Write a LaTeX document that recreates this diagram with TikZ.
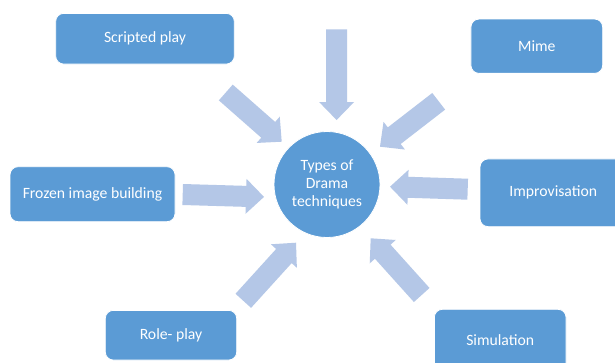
\documentclass[tikz,border=0pt]{standalone}
\usepackage{fontspec}
\setmainfont{Carlito}
\usetikzlibrary{calc}
\definecolor{boxblue}{HTML}{5B9BD5}
\definecolor{arrowblue}{HTML}{B4C7E7}
\tikzset{
  techbox/.style={draw=white, line width=0.8pt, fill=boxblue, rounded corners=8pt,
    text=white, font=\fontsize{15.7}{17.7}\selectfont, inner sep=0pt, align=center},
  hubnode/.style={circle, fill=boxblue, draw=white, line width=0.8pt, minimum size=106pt,
    inner sep=0pt, text=white, align=center, font=\fontsize{15.7}{17.7}\selectfont},
  blockarrow/.style={fill=arrowblue, draw=none}
}
\newcommand\blockarr[2]{%
  \coordinate (hb) at ($(#2)!18pt!(#1)$);
  \fill[blockarrow] ($(#1)!10.5pt!90:(#2)$) -- ($(hb)!10.5pt!90:(#2)$) -- ($(hb)!17.5pt!90:(#2)$)
    -- (#2) -- ($(hb)!17.5pt!-90:(#2)$) -- ($(hb)!10.5pt!-90:(#2)$) -- ($(#1)!10.5pt!-90:(#2)$) -- cycle;
}
\begin{document}
\begin{tikzpicture}[x=1pt,y=-1pt]
\useasboundingbox (0,0) rectangle (615,362);
\clip (0,0) rectangle (615,362);
\fill[white] (0,0) rectangle (615,362);

\node[techbox, minimum width=178.6pt, minimum height=50.7pt] (scripted) at (145,38.7) {Scripted play};
\node[techbox, minimum width=131.7pt, minimum height=54.3pt] (mime) at (536.8,46.2) {Mime};
\node[techbox, minimum width=165pt, minimum height=55pt] (frozen) at (92.5,194.2) {Frozen image building};
\node[techbox, minimum width=146.6pt, minimum height=67.7pt] (improv) at (553.3,192.8) {Improvisation};
\node[techbox, minimum width=131.4pt, minimum height=49.7pt] (role) at (171,335.2) {Role- play};
\node[techbox, minimum width=131.7pt, minimum height=62pt] (sim) at (500.2,340.3) {Simulation};
\node[hubnode] (hub) at (327,184.5) {Types of\\Drama\\techniques};

\coordinate (a1s) at (336.6,29.3);  \coordinate (a1e) at (336.6,120);
\coordinate (a2s) at (225.8,92.5);  \coordinate (a2e) at (281.7,141.7);
\coordinate (a3s) at (438.7,101.3); \coordinate (a3e) at (380,146.7);
\coordinate (a4s) at (182.7,194.5); \coordinate (a4e) at (264,196.9);
\coordinate (a5s) at (467.7,189.2); \coordinate (a5e) at (390,186.7);
\coordinate (a6s) at (243.3,300.8); \coordinate (a6e) at (296,242.7);
\coordinate (a7s) at (421.7,295);   \coordinate (a7e) at (370.7,238.3);

\blockarr{a1s}{a1e}
\blockarr{a2s}{a2e}
\blockarr{a3s}{a3e}
\blockarr{a4s}{a4e}
\blockarr{a5s}{a5e}
\blockarr{a6s}{a6e}
\blockarr{a7s}{a7e}
\end{tikzpicture}
\end{document}
